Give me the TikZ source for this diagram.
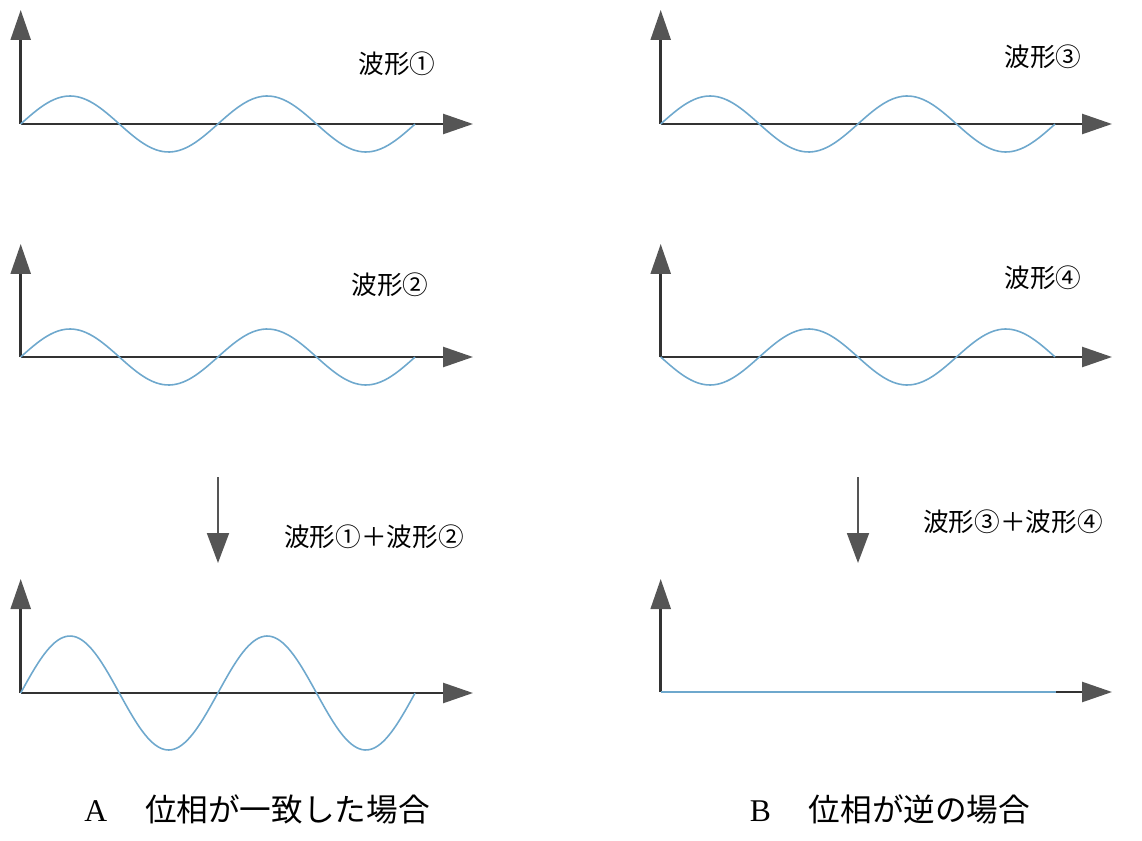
\documentclass[tikz,border=0pt]{standalone}
\usepackage{fontspec}
\setmainfont{Liberation Serif}
\newfontfamily\jpfont{Noto Sans CJK JP}
\usetikzlibrary{arrows.meta,positioning}
\definecolor{axgray}{RGB}{50,50,50}
\definecolor{tipgray}{RGB}{85,85,85}
\definecolor{wave}{RGB}{110,168,205}

\begin{document}
\begin{tikzpicture}[x=0.02cm,y=-0.02cm,
  ax/.style={draw=axgray,line width=1.4pt,-{Triangle[length=0.6cm,width=0.4cm,color=tipgray]}},
  down/.style={draw=tipgray,line width=1.1pt,-{Triangle[length=0.6cm,width=0.44cm,color=tipgray]}},
  wv/.style={draw=wave,line width=0.9pt,smooth},
  lbl/.style={font=\jpfont\fontsize{14.6}{16}\selectfont,inner sep=0},
  captext/.style={font=\fontsize{18}{20}\selectfont,inner sep=0}]
 \useasboundingbox (0,0) rectangle (1142,841);
 % phase matched
 \coordinate (oa) at (20.7,124);  \coordinate (ya) at (20.7,10);  \coordinate (xa) at (473,124);
 \draw[ax] (oa)--(ya); \draw[ax] (oa)--(xa);
 \draw[wv] plot[domain=0:394.3,samples=120] ({20.7+\x},{124-28*sin(\x/197.2*360)});
 \node[lbl] (la) at (397,64) {波形①};
 \coordinate (ob) at (20.7,357);  \coordinate (yb) at (20.7,244);  \coordinate (xb) at (473,357);
 \draw[ax] (ob)--(yb); \draw[ax] (ob)--(xb);
 \draw[wv] plot[domain=0:394.3,samples=120] ({20.7+\x},{357-28*sin(\x/197.2*360)});
 \node[lbl] (lb) at (390,285) {波形②};
 \coordinate (sa) at (218,477); \coordinate (ta) at (218,563);
 \draw[down] (sa)--(ta);
 \node[lbl] (lab) at (374,537) {波形①＋波形②};
 \coordinate (oc) at (20.7,693);  \coordinate (yc) at (20.7,579);  \coordinate (xc) at (473,693);
 \draw[ax] (oc)--(yc); \draw[ax] (oc)--(xc);
 \draw[wv] plot[domain=0:394.3,samples=150] ({20.7+\x},{693-57*sin(\x/197.2*360)});
 \node[captext] (capa) at (257,809) {A\hspace{1.2em}{\jpfont 位相が一致した場合}};
 % phase reversed
 \begin{scope}[shift={(640,0)}]
  \coordinate (od) at (20.7,124);  \coordinate (yd) at (20.7,10);  \coordinate (xd) at (472,124);
  \draw[ax] (od)--(yd); \draw[ax] (od)--(xd);
  \draw[wv] plot[domain=0:394.3,samples=120] ({20.7+\x},{124-28*sin(\x/197.2*360)});
  \node[lbl] (ld) at (403,57) {波形③};
  \coordinate (oe) at (20.7,357);  \coordinate (ye) at (20.7,244);  \coordinate (xe) at (472,357);
  \draw[ax] (oe)--(ye); \draw[ax] (oe)--(xe);
  \draw[wv] plot[domain=0:394.3,samples=120] ({20.7+\x},{357+28*sin(\x/197.2*360)});
  \node[lbl] (le) at (403,278) {波形④};
  \coordinate (sb) at (218,477); \coordinate (tb) at (218,563);
  \draw[down] (sb)--(tb);
  \node[lbl] (lde) at (373,522) {波形③＋波形④};
  \coordinate (of) at (20.7,692);  \coordinate (yf) at (20.7,579);  \coordinate (xf) at (472,692);
  \coordinate (ef) at (416,692);
  \draw[ax] (of)--(yf); \draw[ax] (of)--(xf);
  \draw[wv] (of)--(ef);
  \node[captext] (capb) at (250,809) {B\hspace{1.2em}{\jpfont 位相が逆の場合}};
 \end{scope}
\end{tikzpicture}
\end{document}
